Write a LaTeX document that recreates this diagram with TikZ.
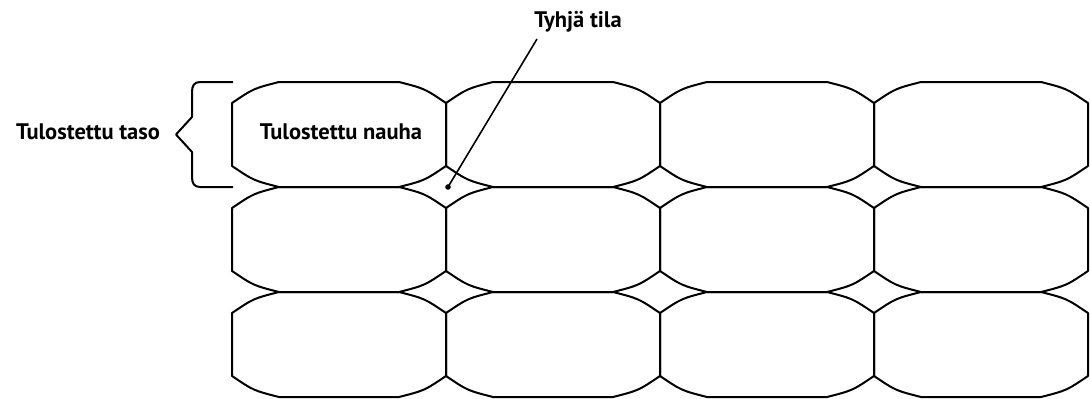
\documentclass[tikz,border=0pt]{standalone}
\usepackage{fontspec}
\setmainfont{PT Sans}
\begin{document}
\begin{tikzpicture}[x=1pt,y=-1pt,
  cellline/.style={line width=2pt, line join=round},
  leader/.style={line width=1.6pt},
  lbl/.style={font=\bfseries\fontsize{22.5}{26}\selectfont, inner sep=0pt},
  bracepath/.style={line width=2pt, line join=round}]
\useasboundingbox (0,0) rectangle (1090,399);

% grid of printed strips: 4 columns x 3 rows, rounded octagonal cells
\foreach \i in {0,...,3}{
  \foreach \j in {0,1,2}{
    \pgfmathsetmacro\xa{232+214*\i}
    \pgfmathsetmacro\xb{\xa+214}
    \pgfmathsetmacro\ya{82+105*\j}
    \pgfmathsetmacro\yb{\ya+105}
    \draw[cellline]
      (\xa,\ya+21) .. controls (\xa+21.5,\ya+6.5) .. (\xa+47,\ya)
      -- (\xb-47,\ya) .. controls (\xb-21.5,\ya+6.5) .. (\xb,\ya+21)
      -- (\xb,\yb-21) .. controls (\xb-21.5,\yb-6.5) .. (\xb-47,\yb)
      -- (\xa+47,\yb) .. controls (\xa+21.5,\yb-6.5) .. (\xa,\yb-21)
      -- cycle;
  }
}

% labels
\node[lbl] (strip) at (341,132) {Tulostettu nauha};
\node[lbl] (layer) at (88,132) {Tulostettu taso};
\node[lbl] (gaplabel) at (578,22) {Tyhjä tila};

% brace marking one printed layer
\draw[bracepath] (233,82) -- (200,82) .. controls (194,82) and (192,86) .. (192,92)
  -- (192,117) -- (176,134.5) -- (192,152) -- (192,177)
  .. controls (192,183) and (194,187) .. (200,187) -- (233,187);

% void between strips
\coordinate (gap) at (448,187);
\coordinate (leadstart) at (537,39);
\fill (gap) circle (2.8);
\draw[leader] (leadstart) -- (gap);
\end{tikzpicture}
\end{document}
